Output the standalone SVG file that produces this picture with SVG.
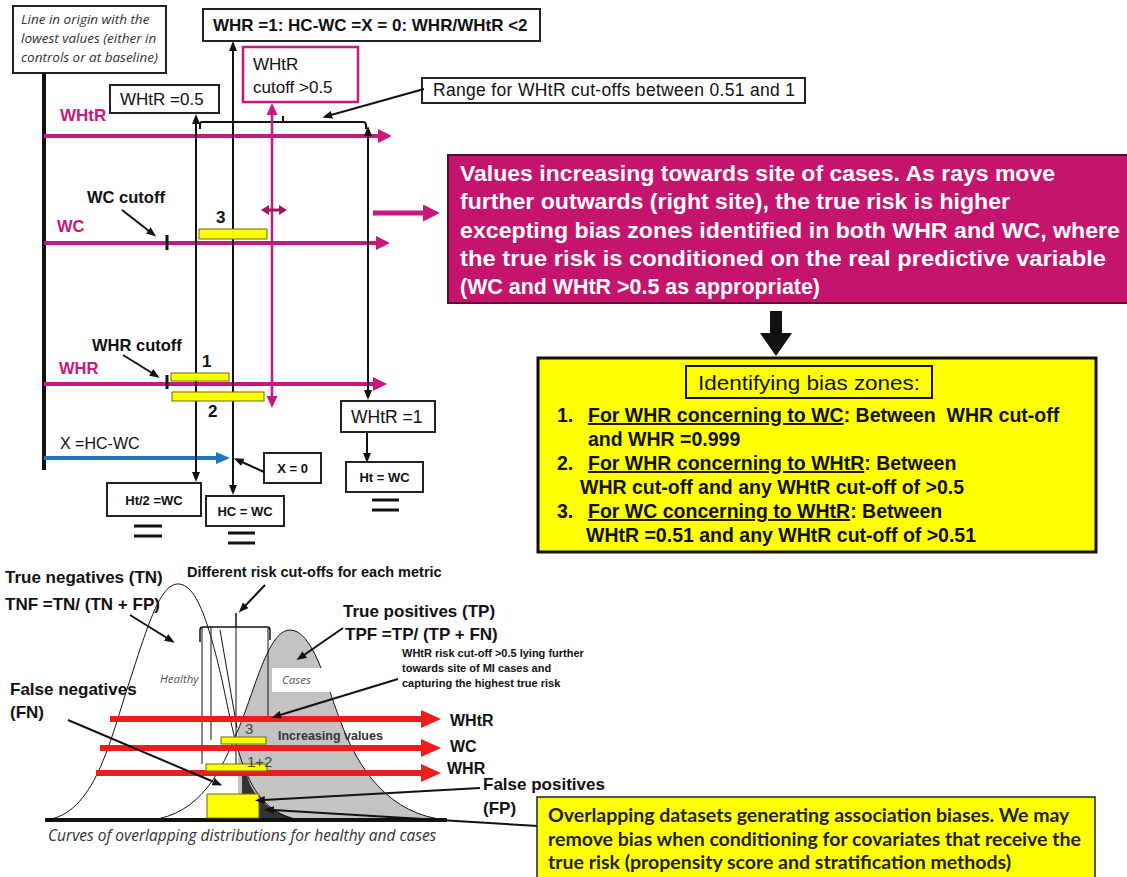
<svg xmlns="http://www.w3.org/2000/svg" width="1127" height="877" viewBox="0 0 1127 877">
<style>
.box{fill:#fff;stroke:#222;stroke-width:2}
.t{font-family:"Liberation Sans",Arial,sans-serif;fill:#111}
.b{font-weight:bold}
.it{font-family:"Open Sans",sans-serif;font-style:italic;fill:#333}
.mg{fill:#c8177e}
.wt{font-family:"Liberation Sans",Arial,sans-serif;font-weight:bold;font-size:22px;fill:#fff}
.ls{font-family:"Liberation Sans",Arial,sans-serif;font-weight:bold;font-size:19.5px;fill:#111}
.ov{font-family:Lato,sans-serif;font-weight:bold;font-size:19.5px;fill:#222}
.ln{stroke:#111;stroke-width:2;fill:none}
.thin{stroke:#111;stroke-width:1;fill:none}
.ray{stroke:#c8177e;stroke-width:4;fill:none}
.red{stroke:#ee1c1c;stroke-width:6;fill:none}
.bar{fill:#ffff00;stroke:#6b6b00;stroke-width:1}
.eq{stroke:#111;stroke-width:3}
</style>
<defs>
<marker id="ab" markerUnits="userSpaceOnUse" markerWidth="10" markerHeight="8" refX="1" refY="4" orient="auto-start-reverse"><path d="M0,0 L10,4 L0,8 z" fill="#111"/></marker>
<marker id="am" markerUnits="userSpaceOnUse" markerWidth="14" markerHeight="14" refX="1" refY="7" orient="auto"><path d="M0,0 L14,7 L0,14 z" fill="#c8177e"/></marker>
<marker id="amv" markerUnits="userSpaceOnUse" markerWidth="12" markerHeight="11" refX="1" refY="5.5" orient="auto-start-reverse"><path d="M0,0 L12,5.5 L0,11 z" fill="#c8177e"/></marker>
<marker id="amd" markerUnits="userSpaceOnUse" markerWidth="8" markerHeight="10" refX="1" refY="5" orient="auto-start-reverse"><path d="M0,0 L8,5 L0,10 z" fill="#a0135e"/></marker>
<marker id="abig" markerUnits="userSpaceOnUse" markerWidth="17" markerHeight="17" refX="1" refY="8.5" orient="auto"><path d="M0,0 L17,8.5 L0,17 z" fill="#c8177e"/></marker>
<marker id="ar" markerUnits="userSpaceOnUse" markerWidth="20" markerHeight="18" refX="1" refY="9" orient="auto"><path d="M0,0 L20,9 L0,18 z" fill="#ee1c1c"/></marker>
<marker id="abl" markerUnits="userSpaceOnUse" markerWidth="14" markerHeight="12" refX="1" refY="6" orient="auto"><path d="M0,0 L14,6 L0,12 z" fill="#1f75c0"/></marker>
<clipPath id="cx"><rect x="238" y="560" width="300" height="270"/></clipPath>
</defs>

<!-- ===== Top-left ray diagram ===== -->
<g id="origin-box">
<rect class="box" x="13" y="6" width="153" height="67"/>
<text class="it" font-size="13.5" x="21" y="24">Line in origin with the</text>
<text class="it" font-size="13.5" x="21" y="43">lowest values (either in</text>
<text class="it" font-size="13.5" x="21" y="62">controls or at baseline)</text>
</g>
<g id="whr1-box">
<rect class="box" x="203" y="9" width="337" height="32"/>
<text class="t b" font-size="17" x="213" y="31">WHR =1: HC-WC =X = 0: WHR/WHtR &lt;2</text>
</g>
<g id="whtr05-box">
<rect class="box" x="110" y="85" width="109" height="28"/>
<text class="t" font-size="17" x="120" y="105">WHtR =0.5</text>
</g>
<g id="whtr-cutoff-box">
<rect x="243" y="47" width="115" height="55" fill="#fff" stroke="#c8177e" stroke-width="2.5"/>
<text class="t" font-size="17" x="253" y="70">WHtR</text>
<text class="t" font-size="17" x="253" y="93">cutoff &gt;0.5</text>
</g>
<g id="range-box">
<rect class="box" x="422" y="78" width="383" height="25"/>
<text class="t" font-size="17.5" x="433" y="96" textLength="362">Range for WHtR cut-offs between 0.51 and 1</text>
</g>
<g id="labels-top">
<text class="t b mg" font-size="17" x="60" y="121">WHtR</text>
<text class="t b" font-size="16.5" x="87" y="203">WC cutoff</text>
<text class="t b mg" font-size="16.5" x="57" y="232">WC</text>
<text class="t b" font-size="17" x="216" y="223">3</text>
<text class="t b" font-size="16.5" x="92" y="351">WHR cutoff</text>
<text class="t b mg" font-size="16.5" x="59" y="374">WHR</text>
<text class="t b" font-size="17" x="202" y="367">1</text>
<text class="t b" font-size="17" x="208" y="417">2</text>
<text class="t" font-size="16" x="60" y="449">X =HC-WC</text>
</g>
<g id="whtr1-box">
<rect class="box" x="341" y="401" width="94" height="31"/>
<text class="t" font-size="17.5" x="351" y="423">WHtR =1</text>
</g>
<g id="htwc-box">
<rect class="box" x="346" y="462" width="77" height="30"/>
<text class="t b" font-size="13" x="384.5" y="482" text-anchor="middle">Ht = WC</text>
<line class="eq" x1="372" y1="500" x2="399" y2="500"/><line class="eq" x1="372" y1="510" x2="399" y2="510"/>
</g>
<g id="x0-box">
<rect class="box" x="264" y="453" width="57" height="30"/>
<text class="t b" font-size="13" x="292.5" y="473" text-anchor="middle">X = 0</text>
</g>
<g id="ht2-box">
<rect class="box" x="107" y="483" width="94" height="33"/>
<text class="t b" font-size="13" x="154" y="505" text-anchor="middle">Ht/2 =WC</text>
<line class="eq" x1="134" y1="526" x2="162" y2="526"/><line class="eq" x1="134" y1="536" x2="162" y2="536"/>
</g>
<g id="hcwc-box">
<rect class="box" x="206" y="496" width="78" height="30"/>
<text class="t b" font-size="13" x="245" y="516" text-anchor="middle">HC = WC</text>
<line class="eq" x1="228" y1="533" x2="255" y2="533"/><line class="eq" x1="228" y1="543" x2="255" y2="543"/>
</g>

<g id="connectors-top">
<line x1="44" y1="73" x2="44" y2="470" stroke="#111" stroke-width="4"/>
<path class="ln" d="M200,129 L200,124 Q200,122 202,122 L363,122 Q366,122 366,125 L366,129 M283,122 L283,116"/>
<line class="ln" x1="424" y1="89" x2="331" y2="115" marker-end="url(#ab)"/>
<line class="ray" x1="44" y1="136" x2="379" y2="136" marker-end="url(#am)"/>
<line class="ray" x1="44" y1="243" x2="377" y2="243" marker-end="url(#am)"/>
<line class="ray" x1="44" y1="384" x2="374" y2="384" marker-end="url(#am)"/>
<line x1="44" y1="458" x2="217" y2="458" stroke="#1f75c0" stroke-width="4" marker-end="url(#abl)"/>
<line class="ln" x1="196" y1="123" x2="196" y2="473" marker-start="url(#ab)" marker-end="url(#ab)"/>
<line class="ln" x1="233" y1="50" x2="233" y2="486" marker-start="url(#ab)" marker-end="url(#ab)"/>
<line class="ln" x1="368" y1="135" x2="368" y2="391" marker-start="url(#ab)" marker-end="url(#ab)"/>
<line x1="272" y1="114" x2="272" y2="397" stroke="#c8177e" stroke-width="2.5" marker-start="url(#amv)" marker-end="url(#amv)"/>
<line x1="268" y1="210" x2="280" y2="210" stroke="#a0135e" stroke-width="3" marker-start="url(#amd)" marker-end="url(#amd)"/>
<line x1="373" y1="213" x2="424" y2="213" stroke="#c8177e" stroke-width="5" marker-end="url(#abig)"/>
<line x1="167" y1="235" x2="167" y2="250" stroke="#111" stroke-width="3"/>
<line x1="167" y1="375" x2="167" y2="389" stroke="#111" stroke-width="3"/>
<line class="ln" x1="122" y1="210" x2="149" y2="231" marker-end="url(#ab)"/>
<line class="ln" x1="123" y1="355" x2="152" y2="373" marker-end="url(#ab)"/>
<line class="ln" x1="367" y1="432" x2="367" y2="454" marker-end="url(#ab)"/>
<line class="ln" x1="264" y1="472" x2="242" y2="462" marker-end="url(#ab)"/>
</g>
<g id="bars-top">
<rect class="bar" x="199" y="229" width="68" height="10"/>
<rect class="bar" x="171" y="373" width="58" height="8"/>
<rect class="bar" x="172" y="392" width="92" height="9"/>
</g>

<!-- ===== Right boxes ===== -->
<g id="values-box">
<rect x="448" y="155" width="681" height="148" fill="#c4146e" stroke="#5a0a30" stroke-width="2"/>
<text class="wt" x="460" y="181" textLength="595" lengthAdjust="spacingAndGlyphs">Values increasing towards site of cases. As rays move</text>
<text class="wt" x="460" y="209" textLength="550" lengthAdjust="spacingAndGlyphs">further outwards (right site), the true risk is higher</text>
<text class="wt" x="460" y="238" textLength="660" lengthAdjust="spacingAndGlyphs">excepting bias zones identified in both WHR and WC, where</text>
<text class="wt" x="460" y="266" textLength="646" lengthAdjust="spacingAndGlyphs">the true risk is conditioned on the real predictive variable</text>
<text class="wt" x="460" y="294" textLength="360" lengthAdjust="spacingAndGlyphs">(WC and WHtR &gt;0.5 as appropriate)</text>
</g>
<g id="down-arrow">
<rect x="770" y="311" width="12" height="23" fill="#111"/>
<polygon points="760,333 792,333 776,356" fill="#111"/>
</g>
<g id="bias-box">
<rect x="538" y="358" width="558" height="194" fill="#ffff00" stroke="#111" stroke-width="3"/>
<rect x="686" y="366" width="246" height="32" fill="none" stroke="#111" stroke-width="2"/>
<text class="t" font-size="21" x="698" y="390" textLength="222" lengthAdjust="spacingAndGlyphs">Identifying bias zones:</text>
<text class="ls" x="557" y="422">1.</text>
<text class="ls" x="588" y="422" xml:space="preserve"><tspan style="text-decoration:underline">For WHR concerning to WC</tspan>: Between  WHR cut-off</text>
<text class="ls" x="588" y="446">and WHR =0.999</text>
<text class="ls" x="557" y="470">2.</text>
<text class="ls" x="588" y="470"><tspan style="text-decoration:underline">For WHR concerning to WHtR</tspan>: Between</text>
<text class="ls" x="580" y="494">WHR cut-off and any WHtR cut-off of &gt;0.5</text>
<text class="ls" x="557" y="518">3.</text>
<text class="ls" x="588" y="518"><tspan style="text-decoration:underline">For WC concerning to WHtR</tspan>: Between</text>
<text class="ls" x="586" y="542">WHtR =0.51 and any WHtR cut-off of &gt;0.51</text>
</g>

<!-- ===== Bottom distributions ===== -->
<g id="distributions">
<path d="M150,820 C200,815 222,770 238,730 C255,690 268,630 290,630 C312,630 325,680 340,720 C358,770 390,815 447,820 Z" fill="#c3c3c3" clip-path="url(#cx)"/>
<path d="M242,776 L247,776 C252,792 262,810 300,820 L242,820 Z" fill="#333"/>
<path class="thin" d="M45,820 C95,815 110,740 130,680 C148,625 160,584 178,584 C196,584 208,620 222,680 C236,745 245,812 300,820"/>
<path class="thin" d="M150,820 C200,815 222,770 238,730 C255,690 268,630 290,630 C312,630 325,680 340,720 C358,770 390,815 447,820"/>
<rect x="272" y="668" width="60" height="24" fill="#fff"/>
<text class="it" font-size="11.5" x="282" y="684" style="fill:#555">Cases</text>
<text class="it" font-size="11.5" x="160" y="683" style="fill:#555">Healthy</text>
<path d="M200,642 L200,630 Q200,627 203,627 L267,627 Q270,627 270,630 L270,640 M236,627 L236,613" stroke="#111" stroke-width="1.5" fill="none"/>
<path class="thin" d="M202,627 L202,764 M211,627 L211,740 M236,627 L236,764 M268,627 L268,719 M220,630 L237,728"/>
<line x1="45" y1="820" x2="447" y2="820" stroke="#111" stroke-width="4"/>
</g>
<g id="rays-bottom">
<line class="red" x1="110" y1="719" x2="422" y2="719" marker-end="url(#ar)"/>
<line class="red" x1="100" y1="748" x2="422" y2="748" marker-end="url(#ar)"/>
<line class="red" x1="96" y1="773" x2="422" y2="773" marker-end="url(#ar)"/>
</g>
<g id="bars-bottom">
<rect class="bar" x="221" y="737" width="45" height="7"/>
<rect class="bar" x="206" y="764" width="61" height="7"/>
<rect class="bar" x="207" y="794" width="52" height="24"/>
</g>
<g id="labels-bottom">
<text class="t b" font-size="17" x="5" y="583">True negatives (TN)</text>
<text class="t b" font-size="17" x="5" y="610">TNF =TN/ (TN + FP)</text>
<text class="t b" font-size="14.5" x="187" y="577">Different risk cut-offs for each metric</text>
<text class="t b" font-size="17" x="343" y="617">True positives (TP)</text>
<text class="t b" font-size="17" x="345" y="640">TPF =TP/ (TP + FN)</text>
<text class="t b" font-size="11" x="402" y="657">WHtR risk cut-off &gt;0.5 lying further</text>
<text class="t b" font-size="11" x="402" y="672">towards site of MI cases and</text>
<text class="t b" font-size="11" x="402" y="687">capturing the highest true risk</text>
<text class="t b" font-size="17" x="10" y="695">False negatives</text>
<text class="t b" font-size="17" x="10" y="718">(FN)</text>
<text class="t b" font-size="16" x="450" y="726">WHtR</text>
<text class="t b" font-size="16" x="450" y="752">WC</text>
<text class="t b" font-size="16" x="447" y="774">WHR</text>
<text class="t b" font-size="17" x="483" y="790">False positives</text>
<text class="t b" font-size="17" x="483" y="814">(FP)</text>
<text class="t" font-size="15" x="245" y="734" style="fill:#444">3</text>
<text class="t b" font-size="12.5" x="278" y="740" style="fill:#333">Increasing values</text>
<text class="t" font-size="15" x="247" y="767" style="fill:#444">1+2</text>
<text class="it" font-size="15.5" x="48" y="841">Curves of overlapping distributions for healthy and cases</text>
</g>
<g id="connectors-bottom">
<line class="ln" x1="130" y1="615" x2="167" y2="638" marker-end="url(#ab)"/>
<line class="ln" x1="265" y1="585" x2="245" y2="606" marker-end="url(#ab)"/>
<line class="ln" x1="343" y1="628" x2="304" y2="655" marker-end="url(#ab)"/>
<line class="ln" x1="398" y1="679" x2="280" y2="715" marker-end="url(#ab)"/>
<line class="ln" x1="68" y1="720" x2="214" y2="782" marker-end="url(#ab)"/>
<line class="ln" x1="480" y1="788" x2="264" y2="800" marker-end="url(#ab)"/>
<line class="ln" x1="538" y1="826" x2="273" y2="810" marker-end="url(#ab)"/>
</g>
<g id="overlap-box">
<rect x="537" y="797" width="558" height="82" fill="#ffff00" stroke="#222" stroke-width="1.5"/>
<text class="ov" x="548" y="822">Overlapping datasets generating association biases. We may</text>
<text class="ov" x="548" y="846">remove bias when conditioning for covariates that receive the</text>
<text class="ov" x="548" y="869">true risk (propensity score and stratification methods)</text>
</g>
</svg>
